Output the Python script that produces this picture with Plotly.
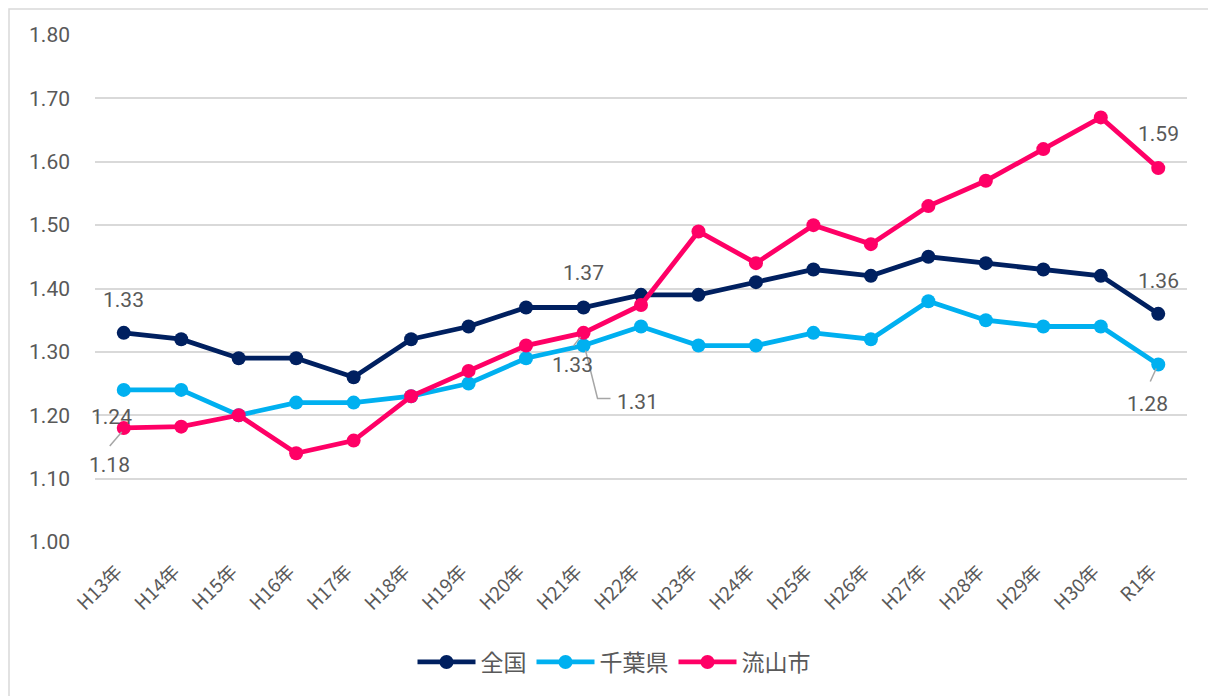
import plotly.graph_objects as go

categories = ["H13年", "H14年", "H15年", "H16年", "H17年", "H18年", "H19年", "H20年", "H21年", "H22年",
              "H23年", "H24年", "H25年", "H26年", "H27年", "H28年", "H29年", "H30年", "R1年"]
zenkoku = [1.33, 1.32, 1.29, 1.29, 1.26, 1.32, 1.34, 1.37, 1.37, 1.39,
           1.39, 1.41, 1.43, 1.42, 1.45, 1.44, 1.43, 1.42, 1.36]
chiba = [1.24, 1.24, 1.20, 1.22, 1.22, 1.23, 1.25, 1.29, 1.31, 1.34,
         1.31, 1.31, 1.33, 1.32, 1.38, 1.35, 1.34, 1.34, 1.28]
nagareyama = [1.18, 1.182, 1.20, 1.14, 1.16, 1.23, 1.27, 1.31, 1.33, 1.374,
              1.49, 1.44, 1.50, 1.47, 1.53, 1.57, 1.62, 1.67, 1.59]
y_ticks = [1.00, 1.10, 1.20, 1.30, 1.40, 1.50, 1.60, 1.70, 1.80]

series = [("全国", zenkoku, "#002060"), ("千葉県", chiba, "#00B0F0"), ("流山市", nagareyama, "#FF0066")]

W, H = 1208, 688
L, R, T, B = 87, 29, 27, 154
pw, ph = W - L - R, H - T - B
xmin, xmax = -0.5, len(categories) - 0.5
ymin, ymax = 1.0, 1.8
pxx = pw / (xmax - xmin)
pxy = ph / (ymax - ymin)

xs = list(range(len(categories)))
fig = go.Figure()
for name, vals, col in series:
    fig.add_trace(go.Scatter(x=xs, y=vals, name=name, mode="lines+markers",
                             line=dict(color=col, width=4.8),
                             marker=dict(color=col, size=14)))

FONT = "Roboto, Noto Sans CJK JP, sans-serif"
JFONT = "Noto Sans CJK JP, sans-serif"
GRAY = "#595959"
ann = []

def label(i, vals, text, dx, dy):
    ann.append(dict(x=xs[i], y=vals[i], xref="x", yref="y", text=text, showarrow=False,
                    xshift=dx, yshift=-dy, font=dict(family=FONT, size=21, color=GRAY)))

def leader(i, vals, pts):
    # pts are pixel offsets from the data point (dx, dy down positive)
    x0, y0 = xs[i], vals[i]
    path = "M " + " L ".join(f"{x0 + dx / pxx},{y0 - dy / pxy}" for dx, dy in pts)
    fig.add_shape(type="path", path=path, xref="x", yref="y",
                  line=dict(color="#A6A6A6", width=1.5))

last = len(categories) - 1
label(0, zenkoku, f"{zenkoku[0]:.2f}", 0, -33)
label(0, chiba, f"{chiba[0]:.2f}", -12, 27)
label(0, nagareyama, f"{nagareyama[0]:.2f}", -14, 37)
leader(0, nagareyama, [(-2, 4), (-14, 18)])
label(8, zenkoku, f"{zenkoku[8]:.2f}", 0, -35)
label(8, nagareyama, f"{nagareyama[8]:.2f}", -11, 32)
leader(8, nagareyama, [(-3, 4), (-10, 13)])
label(8, chiba, f"{chiba[8]:.2f}", 54, 56)
leader(8, chiba, [(2, 5), (14, 53), (27, 53)])
label(last, nagareyama, f"{nagareyama[last]:.2f}", 0, -34)
label(last, zenkoku, f"{zenkoku[last]:.2f}", 0, -33)
label(last, chiba, f"{chiba[last]:.2f}", -11, 39)
leader(last, chiba, [(-2, 4), (-8, 17)])

# outer chart border
fig.add_shape(type="rect", xref="paper", yref="paper",
              x0=(1 - L) / pw, x1=(1206 - L) / pw,
              y0=-(700 - T - ph) / ph, y1=1 + (T - 1) / ph,
              line=dict(color="#D9D9D9", width=1.5), layer="below")

fig.update_layout(
    width=W, height=H, margin=dict(l=L, r=R, t=T, b=B),
    paper_bgcolor="white", plot_bgcolor="white",
    annotations=ann,
    showlegend=True,
    legend=dict(orientation="h", x=(606 - L) / pw, xanchor="center",
                y=-(654 - T - ph) / ph, yanchor="middle",
                font=dict(family=JFONT, size=23, color=GRAY),
                itemwidth=58, traceorder="normal"),
    xaxis=dict(range=[xmin, xmax], tickmode="array", tickvals=xs, ticktext=categories,
               tickangle=-45, showgrid=False, zeroline=False, showline=False, ticks="",
               ticklabelstandoff=14, ticklabelshift=-7,
               tickfont=dict(family=JFONT, size=19, color=GRAY)),
    yaxis=dict(range=[ymin, ymax], tickmode="array", tickvals=y_ticks,
               ticktext=[f"{v:.2f}" for v in y_ticks], showgrid=True, gridcolor="#D9D9D9",
               gridwidth=1.5, zeroline=False, showline=False, ticks="",
               ticklabelstandoff=24,
               tickfont=dict(family=FONT, size=21, color=GRAY)),
)
fig.write_html("out.html")
